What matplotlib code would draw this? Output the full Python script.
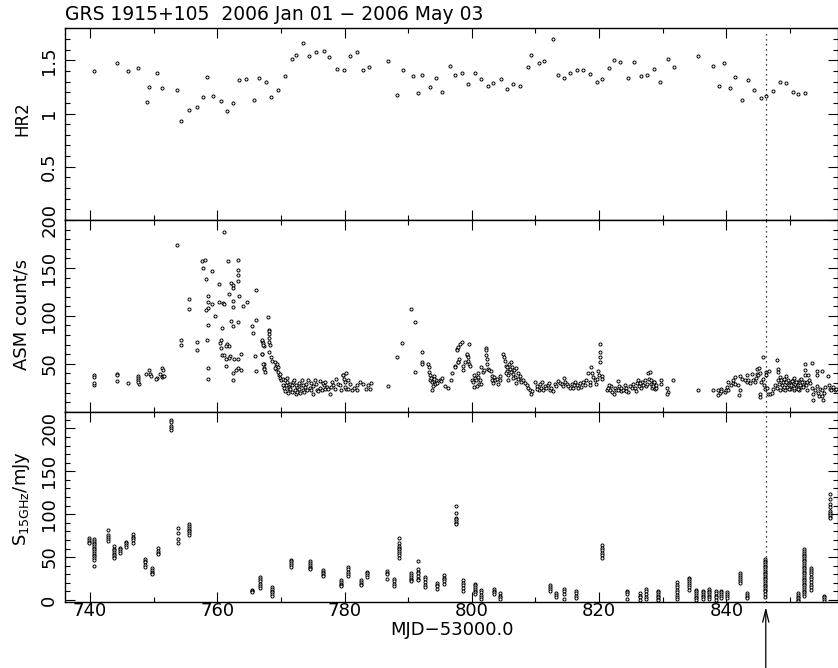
import matplotlib
matplotlib.use('Agg')
import matplotlib.pyplot as plt
from matplotlib.ticker import MultipleLocator

# ---------------- text ----------------
title = "GRS 1915+105  2006 Jan 01 \u2212 2006 May 03"
x_label = "MJD\u221253000.0"
hr2_label = "HR2"
asm_label = "ASM count/s"
radio_label = r"S$_{\rm 15GHz}$/mJy"
event_mjd = 846.2

# ---------------- HR2 ----------------
hr2_mjd = [740.7, 744.3, 745.9, 747.6, 748.9, 749.3, 750.5, 751.3, 753.6, 754.3,
           755.6, 756.8, 757.7, 758.4, 759.4, 760.6, 761.5, 762.4, 763.4, 764.5,
           765.8, 766.5, 767.6, 768.5, 769.5, 770.7, 771.7, 772.4, 773.4, 774.4,
           775.5, 776.7, 777.6, 778.8, 779.9, 780.8, 781.9, 782.9, 783.9, 786.8,
           788.3, 789.2, 790.7, 791.6, 792.1, 793.5, 794.4, 795.3, 796.5, 797.4,
           798.4, 799.4, 800.5, 801.5, 802.5, 803.3, 804.6, 805.6, 806.5, 807.5,
           808.8, 809.3, 810.6, 811.4, 812.7, 813.6, 814.5, 815.5, 816.5, 817.4,
           818.6, 819.7, 820.5, 821.6, 822.3, 823.3, 824.5, 825.5, 826.6, 827.5,
           828.7, 829.6, 830.8, 831.7, 835.6, 837.9, 838.9, 839.6, 840.5, 841.3,
           842.5, 843.4, 844.4, 845.4, 846.3, 847.3, 848.4, 849.4, 850.5, 851.3, 852.3]
hr2_val = [1.40, 1.476, 1.40, 1.43, 1.106, 1.253, 1.379, 1.238, 1.225, 0.933,
           1.037, 1.059, 1.153, 1.341, 1.165, 1.115, 1.024, 1.10, 1.313, 1.325,
           1.131, 1.332, 1.297, 1.156, 1.225, 1.356, 1.513, 1.548, 1.666, 1.541,
           1.579, 1.588, 1.529, 1.422, 1.407, 1.541, 1.576, 1.407, 1.441, 1.497,
           1.172, 1.413, 1.353, 1.19, 1.366, 1.25, 1.337, 1.206, 1.445, 1.36,
           1.379, 1.281, 1.379, 1.328, 1.259, 1.29, 1.325, 1.234, 1.275, 1.262,
           1.438, 1.551, 1.473, 1.491, 1.695, 1.363, 1.335, 1.384, 1.413, 1.407,
           1.369, 1.30, 1.325, 1.426, 1.507, 1.479, 1.335, 1.488, 1.35, 1.36,
           1.416, 1.30, 1.513, 1.441, 1.541, 1.445, 1.259, 1.476, 1.238, 1.341,
           1.128, 1.319, 1.222, 1.15, 1.165, 1.209, 1.30, 1.288, 1.20, 1.184, 1.196]

# ---------------- ASM (mjd, count/s) ----------------
asm_early = [(740.7, 38.2), (740.7, 36.4), (740.6, 28.1), (740.7, 29.8), (744.3, 39.2), (744.3, 38.5),
             (744.3, 32.5), (745.9, 29.5), (747.5, 36.8), (747.5, 34.7), (747.6, 33.3), (747.7, 29.1),
             (747.5, 31.2), (748.8, 38.9), (749.3, 43.4), (749.5, 38.9), (749.6, 36.8), (750.5, 34.7),
             (750.4, 33.6), (751.3, 45.4), (751.4, 43.4), (751.0, 38.9), (751.3, 35.7), (751.5, 36.8),
             (751.7, 37.5)]
asm_flare = [(753.6, 173.6), (755.5, 117.3), (755.5, 107.6), (754.3, 74.3), (754.3, 70.1), (756.8, 73.2),
             (756.8, 63.9), (757.6, 157.3), (758.1, 158.3), (757.7, 149.7), (758.2, 138.9), (759.2, 146.5),
             (758.5, 120.4), (758.5, 114.8), (758.6, 108.0), (758.3, 106.3), (759.2, 112.8), (758.6, 90.9),
             (759.6, 99.6), (758.4, 74.3), (758.5, 45.1), (758.5, 33.6), (761.1, 187.1), (760.2, 132.9),
             (760.2, 114.5), (760.9, 113.1), (761.1, 112.1), (760.7, 87.5), (760.6, 74.6), (760.5, 71.5),
             (760.6, 66.3), (761.6, 70.5), (761.8, 68.8), (761.4, 68.1), (760.7, 59.4), (761.1, 59.0),
             (762.0, 58.3), (761.9, 55.6), (761.4, 54.9), (761.4, 47.2), (761.7, 156.9), (761.8, 122.8),
             (762.2, 134.0), (762.4, 131.9), (762.4, 129.1), (762.5, 115.2), (762.4, 109.0), (762.2, 95.1),
             (762.5, 89.8), (763.3, 158.3), (763.3, 147.6), (763.3, 143.1), (763.2, 136.8), (763.4, 120.9),
             (763.3, 93.8), (763.3, 54.9), (762.6, 54.9), (763.3, 45.1), (763.8, 43.8), (762.4, 40.6),
             (762.9, 43.1), (762.4, 32.6), (763.8, 59.7), (764.1, 110.0), (764.7, 114.5), (766.1, 127.4),
             (765.5, 89.5), (765.6, 82.5), (766.1, 95.4), (766.0, 58.3), (766.1, 42.7), (767.1, 73.9),
             (767.3, 68.8), (767.0, 60.4), (767.4, 49.6), (767.4, 45.1)]
asm_decay = [(768.0, 98.9), (768.1, 85.4), (768.2, 84.7), (767.1, 74.3), (767.2, 71.5), (767.2, 69.1),
             (767.1, 60.4), (768.2, 81.3), (768.1, 77.3), (768.2, 72.8), (768.3, 69.2), (768.2, 62.2),
             (768.5, 56.9), (768.6, 53.4), (767.2, 50.0), (767.3, 44.8), (767.5, 41.3), (769.0, 51.7),
             (769.2, 48.2), (769.3, 44.8), (769.5, 46.5), (769.6, 41.3), (769.7, 37.8), (769.8, 35.5),
             (770.0, 32.6), (769.4, 49.5), (769.1, 45.5), (769.9, 39.0)]
asm_plateau = [(770.4, 34.4), (770.6, 32.6), (770.8, 27.4), (770.9, 30.9), (771.2, 25.7), (771.3, 23.9),
               (771.4, 29.1), (771.7, 27.4), (771.9, 30.9), (772.0, 32.6), (772.2, 22.2), (772.3, 18.8),
               (772.5, 25.7), (772.6, 20.5), (772.9, 23.9), (773.1, 27.4), (773.3, 32.6), (773.4, 22.2),
               (773.6, 20.5), (773.8, 25.7), (774.0, 29.1), (774.3, 32.6), (774.5, 25.0), (774.7, 22.2),
               (775.0, 18.8), (775.3, 32.6), (775.6, 22.9), (775.9, 21.5), (776.1, 25.0), (776.4, 22.2),
               (776.7, 27.4), (776.9, 23.9), (777.2, 25.7), (777.4, 23.9), (777.7, 18.8), (778.0, 30.9),
               (778.2, 27.4), (778.7, 34.4), (779.0, 29.1), (779.3, 27.4), (779.8, 37.8), (779.9, 34.4),
               (780.1, 30.9), (780.3, 23.9), (780.6, 23.9), (780.8, 29.1), (781.1, 22.9), (781.9, 22.2),
               (782.0, 27.4), (782.9, 29.1), (783.7, 27.4), (784.0, 23.9), (786.9, 26.4),
               (770.3, 28.0), (770.5, 25.0), (770.7, 22.0), (771.0, 35.0), (771.1, 20.0), (771.5, 24.0),
               (771.8, 21.0), (772.4, 28.0), (772.8, 30.0), (773.0, 19.0), (773.5, 28.0), (774.1, 23.0),
               (774.8, 30.0), (775.1, 27.0), (775.5, 29.0), (776.2, 32.0), (776.6, 30.0), (777.0, 31.0),
               (777.8, 26.0), (778.5, 24.0), (779.5, 23.0), (780.0, 26.0), (780.5, 33.0), (781.5, 25.0),
               (782.4, 31.0), (783.4, 24.0), (784.2, 30.0), (779.7, 38.0), (780.2, 40.0)]
asm_second = [(790.4, 107.3), (791.0, 93.7), (789.1, 71.9), (788.3, 56.9), (792.1, 61.8), (792.2, 51.4),
              (792.2, 49.3), (791.1, 41.3), (793.1, 50.0), (793.2, 46.5), (793.3, 41.3), (793.5, 37.8),
              (793.4, 32.6), (793.7, 30.9), (794.0, 31.6), (793.8, 22.9), (794.0, 36.8), (794.2, 29.1),
              (794.4, 32.6), (795.0, 33.3), (795.1, 31.6), (795.8, 26.4), (796.3, 25.0), (796.7, 32.6),
              (797.3, 47.2), (797.6, 65.6), (797.9, 51.7), (798.0, 55.2), (793.6, 35.0), (793.9, 27.0),
              (794.1, 34.0), (794.6, 30.0), (795.3, 35.0), (796.9, 40.0)]
asm_mid = [(797.6, 63.9), (797.8, 67.3), (798.1, 70.8), (798.4, 72.5), (797.4, 46.5), (797.9, 51.7),
           (798.6, 48.2), (798.6, 43.0), (798.9, 51.7), (799.2, 58.7), (799.3, 60.4), (799.4, 56.9),
           (799.4, 53.4), (799.5, 70.8), (799.5, 50.0), (799.7, 48.2), (800.1, 33.3), (800.2, 31.1),
           (800.4, 25.7), (800.5, 35.4), (800.7, 32.6), (800.9, 40.3), (801.0, 36.1), (801.1, 29.1),
           (801.3, 33.3), (801.4, 28.5), (801.5, 46.5), (801.8, 41.3), (801.9, 43.0), (802.2, 66.3),
           (802.3, 63.9), (802.3, 58.7), (802.4, 55.2), (802.4, 50.0), (802.6, 44.8), (802.7, 43.0),
           (803.0, 42.3), (803.1, 36.8), (803.2, 33.3), (803.5, 36.1), (803.7, 32.6), (804.0, 34.3),
           (804.1, 28.5), (804.4, 32.6), (804.5, 36.8), (804.9, 59.7), (805.1, 56.9), (805.2, 53.4),
           (805.3, 48.2), (805.5, 46.5), (805.6, 42.3), (805.7, 37.8), (805.7, 32.6), (805.8, 50.0),
           (806.0, 44.8), (806.1, 41.3), (806.2, 51.7), (806.3, 46.5), (806.5, 38.9), (806.7, 43.0),
           (806.8, 36.1), (807.0, 45.8), (807.2, 40.3), (807.3, 34.3), (807.6, 36.8), (807.7, 32.6),
           (807.8, 31.1), (808.1, 33.3), (808.3, 29.9), (808.6, 27.4), (808.9, 25.0), (809.1, 22.9),
           (809.3, 18.1), (809.5, 21.5), (810.0, 31.1), (810.3, 26.4), (810.5, 22.9), (810.7, 29.1),
           (810.9, 25.0), (811.1, 31.1), (811.2, 22.2), (811.5, 26.4), (811.7, 24.3), (812.0, 27.8),
           (812.3, 22.9), (812.5, 25.0), (812.8, 21.5), (813.0, 29.1), (813.3, 26.4), (813.6, 32.0),
           (813.8, 29.9), (814.1, 29.1), (814.5, 35.4), (814.6, 31.1), (814.9, 29.1), (815.1, 26.4),
           (815.4, 24.3), (815.7, 29.1), (815.9, 25.0), (816.2, 31.1), (816.5, 27.8), (816.7, 24.3),
           (817.0, 29.9), (817.2, 25.7), (817.5, 31.1), (817.8, 27.8), (818.0, 33.3), (818.3, 40.3),
           (818.6, 31.1), (818.8, 46.5), (818.9, 40.3), (819.1, 36.1), (819.3, 32.6), (819.6, 34.3),
           (819.9, 42.3), (820.0, 37.8), (820.2, 70.8), (820.2, 62.2), (820.2, 56.9), (820.2, 51.7),
           (820.4, 36.8), (820.5, 34.3), (821.2, 22.9), (821.4, 25.0), (821.7, 22.2), (821.9, 26.4),
           (822.1, 20.5), (822.4, 18.1), (822.5, 24.3), (822.7, 22.2), (823.0, 32.0), (823.1, 26.4),
           (823.4, 21.5), (823.5, 25.0), (823.8, 22.9), (824.0, 27.8), (824.3, 25.0), (824.6, 20.5),
           (824.8, 26.4), (825.1, 24.3), (825.4, 29.1), (825.6, 25.0), (825.9, 29.9), (826.1, 32.6),
           (826.3, 26.4), (826.6, 24.3), (826.8, 31.1), (826.9, 27.8), (827.2, 32.6), (827.4, 26.4),
           (827.7, 40.3), (827.9, 34.3), (828.1, 29.1), (828.3, 25.0), (828.6, 31.1),
           (805.4, 40.0), (806.4, 35.0), (806.9, 30.0), (821.5, 28.0), (822.9, 23.0), (824.2, 22.0),
           (825.8, 22.0), (826.5, 30.0), (827.6, 29.0), (803.3, 30.0), (800.3, 38.0), (800.8, 27.0),
           (810.2, 24.0), (812.1, 30.0), (814.3, 27.0), (816.0, 28.0), (818.5, 28.0), (819.5, 29.0)]
asm_late = [(828.0, 41.3), (828.2, 32.6), (828.4, 29.1), (828.5, 26.4), (828.6, 30.9), (828.8, 23.9),
            (828.9, 25.0), (829.0, 27.4), (829.8, 32.6), (829.8, 28.5), (830.7, 25.0), (830.9, 20.5),
            (830.7, 18.7), (831.6, 32.6), (835.6, 22.9), (837.9, 22.2), (838.7, 17.0), (838.7, 22.2),
            (839.0, 19.4), (839.1, 23.9), (839.2, 21.5), (839.8, 20.5), (839.9, 22.9), (840.1, 25.7),
            (840.3, 22.9), (840.3, 30.9), (840.8, 27.4), (841.0, 29.8), (841.1, 33.3), (841.3, 36.1),
            (841.3, 29.1), (841.9, 27.4), (842.0, 17.0), (842.1, 22.2), (842.1, 36.8), (842.4, 34.3),
            (842.9, 32.6), (843.2, 37.8), (843.2, 30.9), (843.4, 33.3), (843.7, 29.8), (844.0, 38.9),
            (844.2, 32.6), (844.5, 30.9), (844.6, 35.4), (844.8, 44.8), (844.8, 39.6), (845.0, 37.8),
            (845.2, 45.6), (845.3, 40.3), (845.3, 18.7), (845.3, 15.2), (845.5, 30.9), (845.7, 34.3),
            (845.8, 56.9), (845.9, 27.4), (846.0, 23.9), (846.2, 41.3), (846.3, 37.8), (846.4, 25.0),
            (846.6, 18.0), (846.7, 42.3), (846.8, 18.7), (847.1, 19.4), (847.4, 23.9), (847.6, 27.4),
            (847.9, 25.0), (848.0, 54.1), (848.1, 44.8), (848.1, 41.3), (848.1, 32.6), (848.4, 36.1),
            (848.7, 27.4), (848.9, 30.9), (848.9, 23.9), (849.2, 22.9), (849.3, 36.8), (849.5, 29.8),
            (849.6, 25.7), (849.7, 32.6), (849.9, 27.4), (850.0, 23.9), (850.2, 30.9), (850.4, 26.4),
            (850.5, 33.3), (850.6, 22.2), (850.8, 29.1), (851.0, 25.0), (851.1, 30.9), (851.3, 27.4),
            (851.4, 22.9), (851.5, 32.6), (851.8, 25.7), (852.0, 29.1), (852.2, 30.9), (852.3, 49.3),
            (852.3, 43.0), (852.3, 37.8), (852.5, 27.4), (852.6, 22.9), (852.7, 30.9), (852.9, 37.8),
            (853.0, 33.3), (853.2, 29.8), (853.4, 51.0), (853.5, 25.0), (853.6, 18.0), (853.6, 12.5),
            (853.9, 22.2), (854.2, 42.3), (854.2, 37.8), (854.3, 26.4), (854.4, 19.4), (854.6, 15.9),
            (854.7, 23.9), (855.0, 42.3), (855.0, 22.2), (855.1, 15.9), (855.2, 11.8), (855.3, 19.4),
            (855.5, 25.7), (856.0, 36.8), (856.2, 27.4), (856.3, 23.9), (856.5, 22.2), (856.8, 25.7),
            (857.0, 22.2), (857.3, 23.9),
            (848.3, 29.0), (848.6, 33.0), (849.0, 26.0), (849.4, 31.0), (849.8, 24.0), (850.1, 28.0),
            (850.3, 32.0), (850.7, 25.0), (850.9, 31.0), (851.2, 24.0), (851.6, 28.0), (851.9, 31.0),
            (852.1, 26.0), (848.5, 23.0), (849.1, 34.0), (850.6, 35.0), (851.7, 34.0)]

# ---------------- 15 GHz radio: observing day and samples (mJy) ----------------
radio_days = [739.8, 740.6, 742.8, 743.7, 744.7, 745.6, 746.7, 748.6, 749.7, 750.7,
              752.7, 753.8, 755.6, 765.5, 766.7, 768.6, 771.6, 774.6, 776.6, 779.5,
              780.5, 782.6, 783.6, 786.6, 787.7, 788.6, 790.5, 791.6, 792.6, 794.6,
              795.6, 797.5, 798.6, 800.5, 801.4, 803.5, 804.4, 812.3, 813.3, 814.5,
              816.4, 820.4, 824.4, 826.4, 827.4, 829.2, 832.2, 834.2, 835.2, 836.3,
              837.2, 838.4, 839.2, 840.1, 842.2, 843.3, 846.1, 851.2, 852.2, 853.3,
              855.4, 856.3]
radio_flux = [[72, 70, 68, 66], [71, 69, 67, 65, 63, 61, 59, 57, 55, 53, 51, 49, 47, 40],
              [82, 76, 73, 71, 69], [63, 60, 58, 56, 54, 52, 50, 49], [61, 59, 57, 55],
              [68, 66, 64, 62], [77, 74, 72, 70, 67], [48, 46, 44, 41, 39], [37, 35, 33, 31, 30],
              [61, 57, 55, 54], [210, 208, 203, 200, 198], [84, 78, 71, 66],
              [88, 86, 84, 82, 80, 78, 76], [12, 11, 10, 9], [27, 25, 22, 19, 16, 14],
              [15, 13, 11, 9, 7, 5], [47, 45, 43, 41, 39], [45, 43, 41, 39, 37, 36],
              [35, 33, 31, 29, 28], [23, 21, 19, 17, 16], [39, 36, 33, 30, 28], [23, 21, 19, 17],
              [33, 31, 29, 27], [34, 32, 30, 25], [25, 22, 19, 16], [72, 66, 63, 61, 59, 57, 55, 53, 49],
              [31, 29, 27, 25, 23, 22], [46, 36, 33, 31, 28, 25, 23], [27, 24, 21, 18, 15],
              [20, 18, 16, 13], [29, 26, 24, 22, 19], [109, 101, 96, 94, 92, 90, 89],
              [23, 20, 17, 14, 11], [19, 17, 15, 13, 11, 9, 7], [12, 9, 6, 3, 1], [13, 11, 9, 7],
              [8, 5, 3, 1], [17, 15, 13, 11], [8, 6, 4], [13, 10, 7, 1], [11, 8, 5, 2],
              [64, 61, 58, 55, 52, 49], [11, 9, 7, 1], [8, 5, 3, 0], [13, 10, 7, 4, 1],
              [11, 9, 7, 5, 3, 1, 0], [21, 18, 15, 12, 9, 6, 3, 1], [26, 24, 22, 20, 18, 15, 12],
              [12, 10, 8, 6, 4, 2, 0], [11, 9, 7, 5, 3, 1], [13, 11, 9, 7, 5, 3, 1], [11, 8, 5, 3, 0],
              [11, 9, 7, 5, 2], [9, 7, 5, 2], [32, 29, 27, 25, 22, 20], [8, 6, 4, 2],
              [48, 46, 44, 42, 40, 38, 36, 34, 32, 30, 28, 26, 24, 22, 20, 18, 16, 14, 12, 10, 7, 4],
              [8, 6, 4, 2, 0, -1],
              [59, 57, 55, 53, 51, 49, 47, 45, 43, 41, 39, 37, 35, 33, 31, 29, 27, 25, 23, 21, 19,
               17, 15, 13, 11, 9, 7, 5],
              [37, 35, 33, 30, 27, 24, 21, 18, 15, 12], [5, 3, 1, -1],
              [124, 118, 112, 108, 104, 101, 99, 97, 95]]

# ---------------- tick labels ----------------
hr2_ticks = [0.5, 1, 1.5]
hr2_ticklabels = ['0.5', '1', '1.5']
asm_ticks = [50, 100, 150, 200]
asm_ticklabels = ['50', '100', '150', '200']
radio_ticks = [0, 50, 100, 150, 200]
radio_ticklabels = ['0', '50', '100', '150', '200']

# ---------------- figure ----------------
plt.rcParams['font.family'] = ['DejaVu Sans']
W_PX, H_PX = 838, 668
fig = plt.figure(figsize=(W_PX / 100, H_PX / 100), dpi=100)

left = 65.3 / W_PX
width = 1.0 - left
def yfrac(py):
    return 1 - py / H_PX

ax1 = fig.add_axes([left, yfrac(220), width, (220 - 28.3) / H_PX])
ax2 = fig.add_axes([left, yfrac(411.7), width, (411.7 - 220) / H_PX])
ax3 = fig.add_axes([left, yfrac(601.7), width, (601.7 - 411.7) / H_PX])

mk = dict(ls='none', marker='o', ms=2.2, mfc='white', mec='black', mew=0.7)

ax1.plot(hr2_mjd, hr2_val, **mk)

for seg in (asm_early, asm_flare, asm_decay, asm_plateau, asm_second, asm_mid, asm_late):
    xs = [p[0] for p in seg]
    ys = [p[1] for p in seg]
    ax2.plot(xs, ys, **mk)

for day, samples in zip(radio_days, radio_flux):
    ax3.plot([day] * len(samples), samples, **mk)

FS = 13
for ax in (ax1, ax2, ax3):
    ax.set_xlim(736.12, 857.55)
    ax.xaxis.set_major_locator(MultipleLocator(20))
    ax.xaxis.set_minor_locator(MultipleLocator(10))
    ax.tick_params(which='both', direction='in', top=True, right=True, width=0.8,
                   labelsize=FS, color='black')
    ax.tick_params(which='major', length=7)
    ax.tick_params(which='minor', length=3.5)
    ax.tick_params(axis='y', pad=5.0)
    ax.tick_params(axis='x', pad=0.5)
    for s in ax.spines.values():
        s.set_linewidth(1.0)

ax1.set_ylim(0, 1.8)
ax1.set_yticks(hr2_ticks, labels=hr2_ticklabels, rotation=90, va='center')
ax1.yaxis.set_minor_locator(MultipleLocator(0.1))

ax2.set_ylim(0, 200)
ax2.set_yticks(asm_ticks, labels=asm_ticklabels, rotation=90, va='center')
ax2.yaxis.set_minor_locator(MultipleLocator(10))

ax3.set_ylim(-2, 219.5)
ax3.set_yticks(radio_ticks, labels=radio_ticklabels, rotation=90, va='center')
ax3.yaxis.set_minor_locator(MultipleLocator(10))

ax1.tick_params(axis='x', labelbottom=False)
ax2.tick_params(axis='x', labelbottom=False)

# vertical dotted event line
ax1.axvline(event_mjd, ymax=(220 - 33) / (220 - 28.3), ls=(0, (1, 3)), lw=0.9, color='black')
ax2.axvline(event_mjd, ls=(0, (1, 3)), lw=0.9, color='black')
ax3.axvline(event_mjd, ls=(0, (1, 3)), lw=0.9, color='black')

# arrow below the axis
ax3.annotate('', xy=(event_mjd, yfrac(607)), xycoords=('data', 'figure fraction'),
             xytext=(event_mjd, 0.0), textcoords=('data', 'figure fraction'),
             arrowprops=dict(arrowstyle='->,head_length=0.9,head_width=0.22', lw=0.9,
                             color='black', shrinkA=0, shrinkB=0),
             annotation_clip=False)

# texts
fig.text(left, yfrac(20), title, ha='left', va='baseline', fontsize=13.5)
fig.text(22 / W_PX, yfrac(119), hr2_label, rotation=90, ha='center', va='center', fontsize=12)
fig.text(22 / W_PX, yfrac(314), asm_label, rotation=90, ha='center', va='center', fontsize=FS)
fig.text(22 / W_PX, yfrac(499), radio_label, rotation=90, ha='center', va='center', fontsize=FS)
fig.text((left + 1.0) / 2, yfrac(635), x_label, ha='center', va='baseline', fontsize=FS)

fig.savefig('out.png', dpi=100, facecolor='white')
